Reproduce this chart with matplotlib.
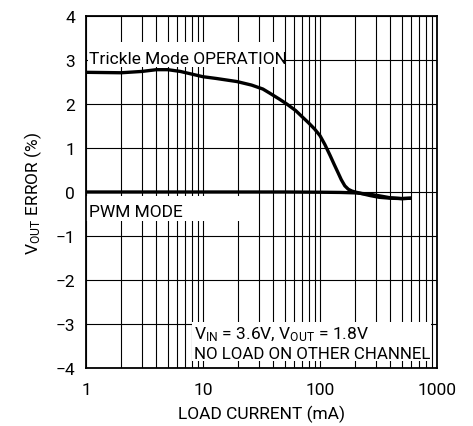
import numpy as np
import matplotlib
matplotlib.use("Agg")
import matplotlib.pyplot as plt
from matplotlib.patches import Rectangle
from matplotlib.ticker import FixedLocator, NullFormatter

plt.rcParams['font.family'] = ['Roboto', 'DejaVu Sans']
plt.rcParams['mathtext.fontset'] = 'custom'
plt.rcParams['mathtext.rm'] = 'Roboto'
plt.rcParams['mathtext.it'] = 'Roboto'

# Trickle mode curve (load current mA, Vout error %)
trickle_x = [1, 2, 3, 4, 5, 6.4, 8, 10, 13, 19.5, 26, 32.5, 37, 45, 52, 62, 71, 80, 90,
             100, 110, 122, 132, 142, 152, 163, 175, 188, 200, 230, 267, 320, 395, 500, 608]
trickle_y = [2.72, 2.71, 2.74, 2.78, 2.78, 2.74, 2.68, 2.62, 2.58, 2.51, 2.43, 2.34, 2.25, 2.11, 2.0,
             1.85, 1.70, 1.57, 1.43, 1.28, 1.08, 0.83, 0.63, 0.45, 0.28, 0.14, 0.06, 0.02, 0.0,
             -0.04, -0.08, -0.12, -0.14, -0.15, -0.14]

# PWM mode curve
pwm_x = [1, 10, 50, 100, 150, 200, 267, 343, 395, 500, 608]
pwm_y = [0.0, 0.0, 0.0, -0.005, -0.01, -0.02, -0.05, -0.10, -0.13, -0.15, -0.14]

xticks = [1, 10, 100, 1000]
yticks = [-4, -3, -2, -1, 0, 1, 2, 3, 4]
minor_x = [m * d for d in (1, 10, 100) for m in range(2, 10)]

fig = plt.figure(figsize=(4.73, 4.27), dpi=100)
ax = fig.add_axes([86 / 473, 1 - 369 / 427, 351 / 473, 352 / 427])
ax.set_xscale('log')
ax.set_xlim(1, 1000)
ax.set_ylim(-4, 4)

ax.xaxis.set_major_locator(FixedLocator(xticks))
ax.xaxis.set_minor_locator(FixedLocator(minor_x))
ax.xaxis.set_minor_formatter(NullFormatter())
ax.set_xticklabels([str(v) for v in xticks])
ax.set_yticks(yticks)
ax.set_yticklabels([str(v).replace('-', '\u2212') for v in yticks])
ax.tick_params(which='both', length=0, labelsize=12.5)
ax.tick_params(axis='x', pad=10)
ax.tick_params(axis='y', pad=8)

ax.grid(True, which='both', color='black', linewidth=0.8, zorder=0.5)
ax.set_axisbelow(True)
for s in ax.spines.values():
    s.set_linewidth(1.3)

ax.plot(pwm_x, pwm_y, color='black', linewidth=2.4, zorder=2, solid_capstyle='butt')
ax.plot(trickle_x, trickle_y, color='black', linewidth=2.4, zorder=2, solid_capstyle='butt')

# white patches behind labels
tr = ax.transData
ax.add_patch(Rectangle((1.03, 2.84), 47 - 1.03, 0.57, transform=tr, facecolor='white', edgecolor='none', zorder=1))
ax.add_patch(Rectangle((1.0, -0.66), 24, 0.57, transform=tr, facecolor='white', edgecolor='none', zorder=1))
ax.add_patch(Rectangle((8.05, -3.85), 885 - 8.05, 0.9, transform=tr, facecolor='white', edgecolor='none', zorder=1))

ax.text(1.06, 2.93, 'Trickle Mode OPERATION', fontsize=12.5, ha='left', va='baseline', zorder=3)
ax.text(1.06, -0.55, 'PWM MODE', fontsize=12.5, ha='left', va='baseline', zorder=3)
ax.text(8.4, -3.33, r'V$_{\mathrm{IN}}$ = 3.6V, V$_{\mathrm{OUT}}$ = 1.8V', fontsize=12.5,
        ha='left', va='baseline', zorder=3)
ax.text(8.4, -3.78, 'NO LOAD ON OTHER CHANNEL', fontsize=12.2, ha='left', va='baseline', zorder=3)

ax.set_xlabel('LOAD CURRENT (mA)', fontsize=12.5, labelpad=6)
ax.set_ylabel(r'V$_{\mathrm{OUT}}$ ERROR (%)', fontsize=12.5, labelpad=8)

fig.savefig('out.png', dpi=100)
